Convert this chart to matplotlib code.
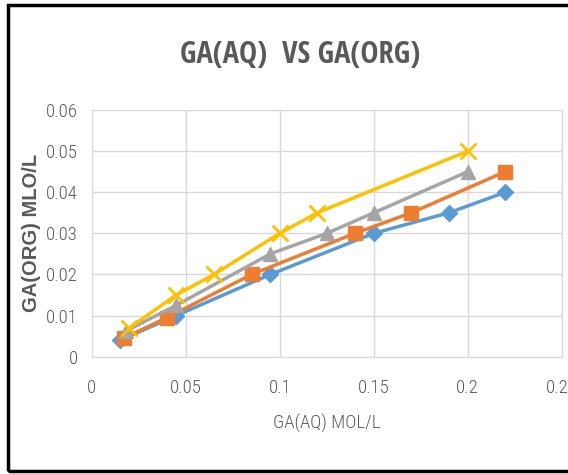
import matplotlib.pyplot as plt
from matplotlib.patches import Rectangle

# data
blue_x = [0.015, 0.045, 0.095, 0.15, 0.19, 0.22]
blue_y = [0.004, 0.010, 0.020, 0.030, 0.035, 0.040]
orange_x = [0.017, 0.040, 0.085, 0.14, 0.17, 0.22]
orange_y = [0.0045, 0.0095, 0.020, 0.030, 0.035, 0.045]
gray_x = [0.018, 0.045, 0.095, 0.125, 0.15, 0.20]
gray_y = [0.0062, 0.0125, 0.025, 0.030, 0.035, 0.045]
yellow_x = [0.020, 0.045, 0.065, 0.10, 0.12, 0.20]
yellow_y = [0.007, 0.015, 0.020, 0.030, 0.035, 0.050]

x_ticks = [0, 0.05, 0.1, 0.15, 0.2, 0.25]
x_labels = ['0', '0.05', '0.1', '0.15', '0.2', '0.25']
y_ticks = [0, 0.01, 0.02, 0.03, 0.04, 0.05, 0.06]
y_labels = ['0', '0.01', '0.02', '0.03', '0.04', '0.05', '0.06']

narrow = ['Roboto Condensed', 'DejaVu Sans']
title_font = ['Open Sans Condensed', 'DejaVu Sans']
text_col = '#595959'

fig = plt.figure(figsize=(5.68, 4.74), dpi=100)
ax = fig.add_axes([91.7 / 568, 117.3 / 474, 470 / 568, 246.7 / 474])

ax.plot(blue_x, blue_y, color='#5B9BD5', lw=2.5, marker='D', ms=8)
ax.plot(orange_x, orange_y, color='#ED7D31', lw=2.5, marker='s', ms=10)
ax.plot(gray_x, gray_y, color='#A5A5A5', lw=2.5, marker='^', ms=10)
ax.plot(yellow_x, yellow_y, color='#FFC000', lw=2.5, marker='x', ms=11, mew=2)

ax.set_xlim(0, 0.25)
ax.set_ylim(0, 0.06)
ax.set_xticks(x_ticks)
ax.set_xticklabels(x_labels, family=narrow, fontweight='light', fontsize=13.5, color=text_col)
ax.set_yticks(y_ticks)
ax.set_yticklabels(y_labels, family=narrow, fontweight='light', fontsize=13.5, color=text_col)
ax.tick_params(axis='x', length=0, pad=16)
ax.tick_params(axis='y', length=0, pad=10)
ax.grid(True, color='#D9D9D9', lw=1)
ax.set_axisbelow(True)
for s in ax.spines.values():
    s.set_color('#D9D9D9')

ax.set_xlabel('GA(AQ) MOL/L', family=narrow, fontweight='light', fontsize=13.5,
              color=text_col, labelpad=12)
ax.set_ylabel('GA(ORG) MLO/L', family=['Liberation Sans', 'DejaVu Sans'], fontsize=14.5,
              fontweight='bold', color=text_col)
ax.yaxis.set_label_coords(-0.108, 0.5)

fig.text(300 / 568, 1 - 55 / 474, 'GA(AQ)  VS GA(ORG)', family=title_font,
         fontsize=22, fontweight='bold', color=text_col, ha='center', va='center')

# black frame around the chart
fig.patches.append(Rectangle((8 / 568, 3 / 474), 1.0, 466 / 474, transform=fig.transFigure,
                             fill=False, edgecolor='black', lw=2.5))

plt.savefig('out.png', dpi=100)
